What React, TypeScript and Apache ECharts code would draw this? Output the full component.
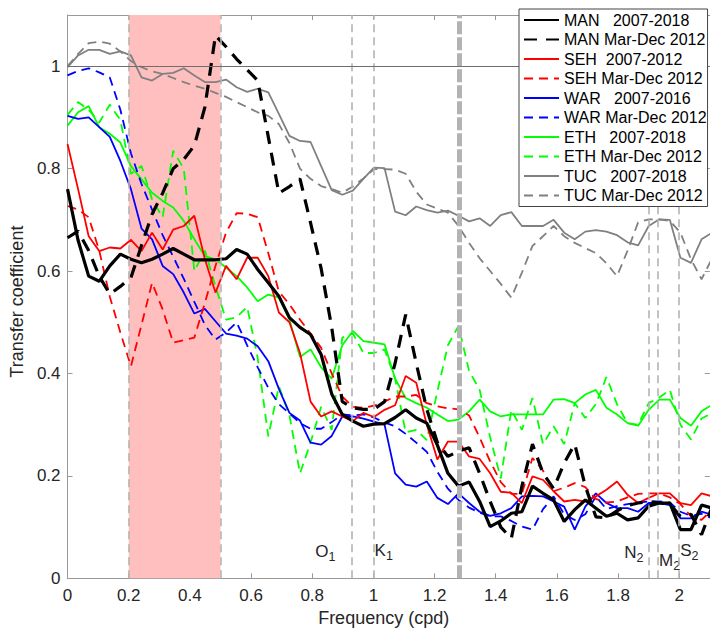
import React, { useEffect, useRef } from "react";
import * as echarts from "echarts";

// spacing of the spectral estimates (cpd)
const FREQ_STEP = 0.03455;

const manFull = [0.760,0.660,0.590,0.580,0.610,0.633,0.623,0.616,0.623,0.633, 0.644,0.633,0.622,0.622,0.622,0.624,0.642,0.633,0.603,0.577, 0.551,0.509,0.490,0.476,0.437,0.360,0.320,0.307,0.297,0.301, 0.302,0.314,0.329,0.313,0.303,0.260,0.205,0.180,0.188,0.150, 0.101,0.112,0.127,0.130,0.180,0.166,0.153,0.111,0.134,0.153, 0.137,0.121,0.127,0.114,0.118,0.141,0.147,0.147,0.095,0.095, 0.143,0.137];
const manShort = [0.665,0.678,0.640,0.590,0.555,0.570,0.587,0.650,0.711,0.752, 0.800,0.818,0.845,0.920,1.060,1.038,1.014,0.993,0.972,0.862, 0.752,0.765,0.780,0.694,0.605,0.490,0.345,0.333,0.330,0.330, 0.345,0.420,0.515,0.420,0.330,0.265,0.238,0.248,0.255,0.205, 0.150,0.100,0.078,0.180,0.262,0.205,0.175,0.225,0.262,0.180, 0.120,0.118,0.132,0.142,0.147,0.150,0.147,0.145,0.121,0.125, 0.085,0.140];
const sehFull = [0.848,0.760,0.668,0.639,0.646,0.644,0.661,0.639,0.675,0.642, 0.681,0.688,0.708,0.623,0.558,0.610,0.584,0.626,0.626,0.590, 0.519,0.500,0.440,0.345,0.316,0.326,0.316,0.307,0.323,0.315, 0.329,0.338,0.395,0.382,0.300,0.232,0.267,0.267,0.238,0.233, 0.205,0.169,0.167,0.147,0.199,0.192,0.170,0.150,0.153,0.150, 0.160,0.173,0.189,0.163,0.147,0.157,0.166,0.166,0.147,0.143, 0.166,0.160];
const sehShort = [0.727,0.720,0.705,0.640,0.550,0.480,0.414,0.495,0.577,0.525, 0.460,0.465,0.470,0.538,0.610,0.675,0.713,0.712,0.705,0.635, 0.560,0.535,0.505,0.478,0.450,0.400,0.355,0.335,0.333,0.337, 0.345,0.355,0.355,0.358,0.342,0.336,0.332,0.330,0.318,0.275, 0.228,0.188,0.165,0.165,0.235,0.210,0.170,0.177,0.186,0.178, 0.155,0.148,0.150,0.158,0.165,0.166,0.166,0.158,0.145,0.121, 0.114,0.134];
const warFull = [0.903,0.897,0.900,0.881,0.862,0.815,0.760,0.683,0.662,0.610, 0.594,0.558,0.517,0.526,0.502,0.478,0.474,0.468,0.453,0.424, 0.370,0.323,0.308,0.265,0.261,0.278,0.316,0.316,0.312,0.306, 0.300,0.205,0.183,0.179,0.189,0.157,0.145,0.166,0.147,0.130, 0.122,0.127,0.137,0.160,0.161,0.160,0.150,0.140,0.095,0.140, 0.166,0.147,0.137,0.137,0.130,0.147,0.147,0.143,0.117,0.117, 0.130,0.124];
const warShort = [0.982,0.991,0.996,0.988,0.978,0.915,0.830,0.770,0.720,0.670, 0.628,0.585,0.540,0.495,0.466,0.480,0.500,0.455,0.412,0.372, 0.340,0.322,0.303,0.292,0.292,0.305,0.320,0.318,0.320,0.314, 0.304,0.297,0.282,0.265,0.247,0.208,0.175,0.153,0.138,0.128, 0.121,0.121,0.112,0.101,0.095,0.135,0.160,0.125,0.114,0.125, 0.160,0.135,0.141,0.145,0.148,0.150,0.150,0.148,0.130,0.122, 0.126,0.117];
const ethFull = [0.884,0.910,0.922,0.881,0.868,0.851,0.805,0.779,0.753,0.737, 0.724,0.698,0.662,0.629,0.623,0.607,0.590,0.568,0.541,0.554, 0.548,0.505,0.432,0.447,0.412,0.390,0.455,0.483,0.463,0.460, 0.457,0.390,0.352,0.342,0.333,0.320,0.307,0.310,0.326,0.349, 0.326,0.316,0.320,0.320,0.320,0.320,0.349,0.350,0.342,0.359, 0.368,0.333,0.320,0.303,0.298,0.329,0.349,0.349,0.313,0.298, 0.326,0.339];
const ethShort = [0.905,0.930,0.915,0.890,0.925,0.895,0.790,0.805,0.740,0.705, 0.835,0.800,0.600,0.640,0.570,0.505,0.510,0.530,0.430,0.277, 0.375,0.318,0.205,0.265,0.335,0.290,0.470,0.478,0.440,0.440, 0.447,0.390,0.285,0.290,0.270,0.365,0.455,0.493,0.405,0.368, 0.275,0.195,0.329,0.290,0.352,0.262,0.297,0.262,0.342,0.313, 0.340,0.393,0.340,0.303,0.300,0.342,0.353,0.368,0.300,0.271, 0.312,0.323];
const tucFull = [0.998,1.021,1.032,1.032,1.024,1.029,1.021,0.978,0.972,0.985, 0.987,0.996,0.982,0.969,0.969,0.974,0.959,0.950,0.956,0.949, 0.907,0.864,0.854,0.852,0.805,0.758,0.749,0.757,0.780,0.802, 0.801,0.716,0.709,0.726,0.719,0.714,0.718,0.708,0.697,0.703, 0.688,0.709,0.715,0.688,0.688,0.688,0.700,0.675,0.662,0.677, 0.680,0.677,0.670,0.656,0.650,0.688,0.701,0.700,0.626,0.616, 0.662,0.675];
const tucShort = [1.000,1.024,1.045,1.048,1.044,1.029,1.010,0.998,0.990,0.985, 0.977,0.969,0.962,0.956,0.948,0.940,0.930,0.920,0.910,0.903, 0.887,0.850,0.800,0.780,0.766,0.760,0.753,0.765,0.781,0.799, 0.799,0.798,0.790,0.755,0.730,0.722,0.714,0.688,0.655,0.625, 0.600,0.575,0.548,0.597,0.649,0.668,0.688,0.668,0.655,0.645, 0.635,0.615,0.590,0.640,0.695,0.701,0.701,0.698,0.675,0.623, 0.584,0.625];

const seriesNames = [
  "MAN   2007-2018",
  "MAN Mar-Dec 2012",
  "SEH  2007-2012",
  "SEH Mar-Dec 2012",
  "WAR   2007-2016",
  "WAR Mar-Dec 2012",
  "ETH   2007-2018",
  "ETH Mar-Dec 2012",
  "TUC   2007-2018",
  "TUC Mar-Dec 2012",
];

// shaded frequency band (cpd)
const bandRange = [0.2, 0.5];
// tidal constituents (cpd)
const tideFreqs = [0.9295, 1.0027, 1.896, 1.9323, 2.0];
const tideLetters = ["O", "K", "N", "M", "S"];
const tideSubs = ["1", "1", "2", "2", "2"];
const tideLabelFreq = [0.876, 1.004, 1.883, 1.934, 2.003];
const tideLabelLevel = [0.053, 0.055, 0.051, 0.034, 0.055];
const tideLabelAlign = ["right", "left", "right", "left", "left"];
const thickLineFreq = 1.283;
const refLevel = 1;

export default function App() {
  const ref = useRef<HTMLDivElement>(null);

  useEffect(() => {
    document.body.style.margin = "0";
    const chart = echarts.init(ref.current!, null, { renderer: "svg" });
    const font = "Liberation Sans";
    const freq = manFull.map((_, i) => +(i * FREQ_STEP).toFixed(5));
    const toPairs = (vals: number[]) => vals.map((v, i) => [freq[i], v]);

    const thin = 1.8;
    const defs = [
      { data: manFull, color: "#000000", width: 3.2, dash: null as any },
      { data: manShort, color: "#000000", width: 3.2, dash: [13, 9] },
      { data: sehFull, color: "#ff0000", width: thin, dash: null },
      { data: sehShort, color: "#ff0000", width: thin, dash: [9, 6] },
      { data: warFull, color: "#0000ff", width: thin, dash: null },
      { data: warShort, color: "#0000ff", width: thin, dash: [9, 6] },
      { data: ethFull, color: "#00ff00", width: thin, dash: null },
      { data: ethShort, color: "#00ff00", width: thin, dash: [9, 6] },
      { data: tucFull, color: "#808080", width: thin, dash: null },
      { data: tucShort, color: "#808080", width: thin, dash: [9, 6] },
    ];

    const lineSeries = defs
      .map((d, i) => ({
        type: "line",
        name: seriesNames[i],
        data: toPairs(d.data),
        symbol: "none",
        showSymbol: false,
        silent: true,
        clip: true,
        z: 3,
        itemStyle: { color: d.color },
        lineStyle: { color: d.color, width: d.width, type: d.dash ? d.dash : "solid" },
      }))
      .reverse();

    const gridLine = (w: number, dash: number[], color: string) => ({
      type: dash, width: w, color,
    });

    const helper = {
      type: "line",
      name: "__ref",
      data: [],
      silent: true,
      z: 1,
      markArea: {
        silent: true,
        itemStyle: { color: "#ffbfbf" },
        data: [[{ xAxis: bandRange[0] }, { xAxis: bandRange[1] }]],
      },
      markLine: {
        silent: true,
        symbol: ["none", "none"],
        label: { show: false },
        animation: false,
        data: [
          ...bandRange.map((f) => ({ xAxis: f, lineStyle: gridLine(1.6, [8, 5], "#b3b3b3") })),
          ...tideFreqs.map((f) => ({ xAxis: f, lineStyle: gridLine(1.6, [8, 5], "#b3b3b3") })),
          { xAxis: thickLineFreq, lineStyle: gridLine(5, [13, 3], "#b3b3b3") },
          { yAxis: refLevel, lineStyle: { type: "solid", width: 1, color: "#6e6e6e" } },
        ],
      },
    };

    const tideLabels = {
      type: "scatter",
      name: "__tides",
      symbolSize: 0,
      silent: true,
      z: 4,
      itemStyle: { opacity: 1, color: "#262626" },
      data: tideLabelFreq.map((f, i) => ({
        value: [f, tideLabelLevel[i]],
        label: { align: tideLabelAlign[i] },
      })),
      label: {
        show: true,
        opacity: 1,
        position: [0, 0],
        verticalAlign: "middle",
        formatter: (p: any) => `{b|${tideLetters[p.dataIndex]}}{s|${tideSubs[p.dataIndex]}}`,
        rich: {
          b: { fontSize: 17, fontFamily: font, color: "#262626" },
          s: { fontSize: 12.5, fontFamily: font, color: "#262626", padding: [11, 0, 0, 0] },
        },
      },
    };

    const axisCommon = {
      axisLine: { show: true, onZero: false, lineStyle: { color: "#999999", width: 1 } },
      axisTick: { show: true, inside: true, length: 5, lineStyle: { color: "#999999", width: 1 } },
      splitLine: { show: false },
    };

    chart.setOption({
      animation: false,
      grid: { left: 63.2, right: 0.2, top: 15, bottom: 56.7, containLabel: false },
      legend: {
        data: seriesNames,
        orient: "vertical",
        left: 519,
        top: 9,
        itemWidth: 35,
        itemHeight: 16,
        itemGap: 3.5,
        padding: [3, 1, 3, 4],
        backgroundColor: "#ffffff",
        borderColor: "#444444",
        borderWidth: 1,
        borderRadius: 0,
        selectedMode: false,
        z: 10,
        itemStyle: { opacity: 0 },
        textStyle: { fontFamily: font, fontSize: 16, color: "#000000" },
      },
      xAxis: [
        {
          type: "value", min: 0, max: 2.1, interval: 0.2, position: "bottom",
          ...axisCommon,
          axisLabel: { color: "#262626", fontSize: 17, fontFamily: font, margin: 9, showMaxLabel: false },
          name: "Frequency (cpd)", nameLocation: "middle", nameGap: 31,
          nameTextStyle: { fontSize: 18, color: "#262626", fontFamily: font, padding: [0, 10, 0, 0] },
        },
        {
          type: "value", min: 0, max: 2.1, interval: 0.2, position: "top",
          ...axisCommon,
          axisLabel: { show: false },
        },
      ],
      yAxis: [
        {
          type: "value", min: 0, max: 1.1, interval: 0.2, position: "left",
          ...axisCommon,
          axisLabel: { color: "#262626", fontSize: 17, fontFamily: font, margin: 7, showMaxLabel: false },
          name: "Transfer coefficient", nameLocation: "middle", nameGap: 34,
          nameTextStyle: { fontSize: 18, color: "#262626", fontFamily: font, padding: [0, 10, 0, 0] },
        },
        {
          type: "value", min: 0, max: 1.1, interval: 0.2, position: "right",
          ...axisCommon,
          axisLabel: { show: false },
        },
      ],
      series: [helper, ...lineSeries, tideLabels],
    });

    return () => chart.dispose();
  }, []);

  return <div ref={ref} style={{ width: 710, height: 635 }} />;
}
